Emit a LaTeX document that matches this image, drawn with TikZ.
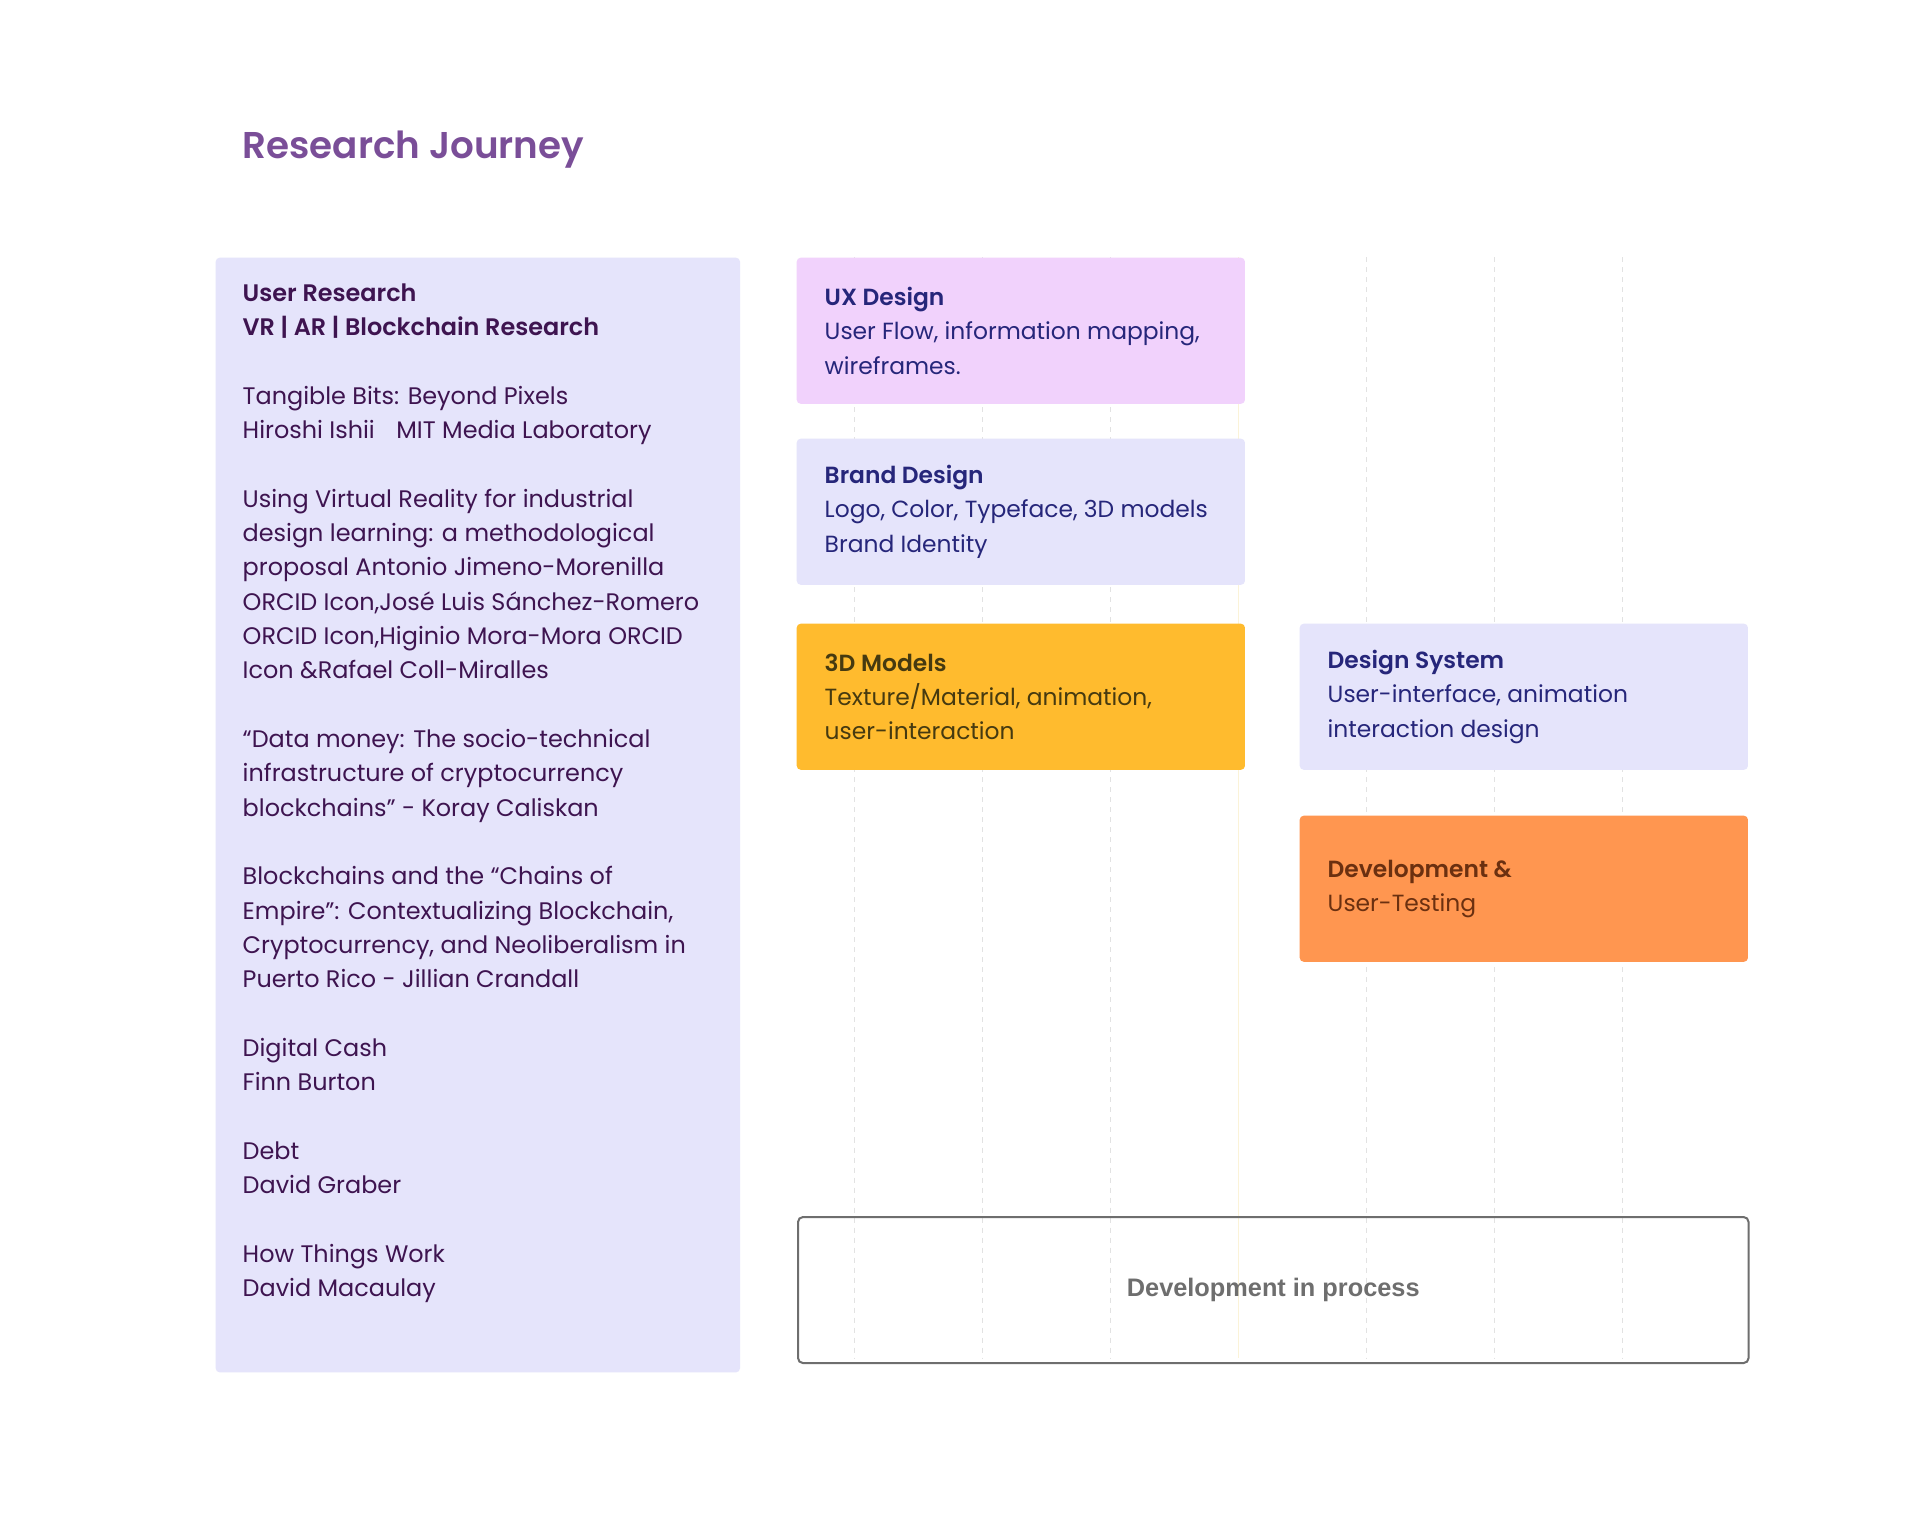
\documentclass[tikz,border=0pt]{standalone}
\usepackage{fontspec}
\setmainfont{Poppins}[BoldFont={Poppins SemiBold}]
\setsansfont{Liberation Sans}
\usetikzlibrary{positioning}

\definecolor{titlepurple}{HTML}{7A4E98}
\definecolor{panelblue}{HTML}{E5E4FB}
\definecolor{panelink}{HTML}{3E1450}
\definecolor{uxpink}{HTML}{F1D2FC}
\definecolor{navyink}{HTML}{26267A}
\definecolor{modelgold}{HTML}{FFBB2E}
\definecolor{goldink}{HTML}{463A10}
\definecolor{devorange}{HTML}{FF9650}
\definecolor{orangeink}{HTML}{6B3010}
\definecolor{gridgray}{HTML}{E2E2E2}
\definecolor{gridyellow}{HTML}{FBF3D8}
\definecolor{procgray}{HTML}{6E6E6E}

\newcommand{\rjbody}{\fontsize{6.8}{9.76}\selectfont}
\newcommand{\rjbox}{\fontsize{6.65}{9.76}\selectfont}

\tikzset{
  stagebox/.style={rounded corners=0.4mm, inner sep=0pt, minimum width=4.48cm,
    minimum height=1.46cm, anchor=north west},
  stagetext/.style={align=left, inner sep=0pt, anchor=west, font=\rjbox},
  gridline/.style={gridgray, line width=0.1mm, dash pattern=on 0.5mm off 0.5mm},
}

\begin{document}
\begin{tikzpicture}[x=0.01cm, y=-0.01cm]
  \useasboundingbox[fill=white] (0,0) rectangle (1920,1524);

  % Header
  \node[anchor=west, inner sep=0pt, text=titlepurple,
    font=\fontsize{10.6}{12}\selectfont\bfseries] (title) at (242,150) {Research Journey};

  % Reading list
  \node[fill=panelblue, rounded corners=0.4mm, minimum width=5.24cm,
    minimum height=11.14cm, anchor=north west, inner sep=0pt] (panel) at (215,257) {};
  \node[anchor=north west, align=left, text=panelink, font=\rjbody, inner sep=0pt]
    (refs) at (242,283) {%
    \textbf{User Research}\\
    \textbf{VR | AR | Blockchain Research}\\[9.76pt]
    Tangible Bits: Beyond Pixels\\
    Hiroshi Ishii\hspace{0.9em}MIT Media Laboratory\\[9.76pt]
    Using Virtual Reality for industrial\\
    design learning: a methodological\\
    proposal Antonio Jimeno-Morenilla\\
    ORCID Icon,José Luis Sánchez-Romero\\
    ORCID Icon,Higinio Mora-Mora ORCID\\
    Icon \&Rafael Coll-Miralles\\[9.76pt]
    “Data money: The socio-technical\\
    infrastructure of cryptocurrency\\
    blockchains” - Koray Caliskan\\[9.76pt]
    Blockchains and the “Chains of\\
    Empire”: Contextualizing Blockchain,\\
    Cryptocurrency, and Neoliberalism in\\
    Puerto Rico - Jillian Crandall\\[9.76pt]
    Digital Cash\\
    Finn Burton\\[9.76pt]
    Debt\\
    David Graber\\[9.76pt]
    How Things Work\\
    David Macaulay};

  % Grid
  \foreach \gx in {854,982,1110,1366,1494,1622}
    \draw[gridline] (\gx,257) -- (\gx,1358);
  \draw[gridyellow, line width=0.1mm] (1238,257) -- (1238,1358);

  % Boxes
  \node[stagebox, fill=uxpink] (ux) at (796,257) {};
  \node[stagebox, fill=panelblue] (brand) at (796,438) {};
  \node[stagebox, fill=modelgold] (models) at (796,623) {};
  \node[stagebox, fill=panelblue] (system) at (1299,623) {};
  \node[stagebox, fill=devorange] (devtest) at (1299,815) {};

  \node[stagetext, text=navyink, right=0.28cm of ux.west] (uxtext)
    {\textbf{UX Design}\\User Flow, information mapping,\\wireframes.};
  \node[stagetext, text=navyink, right=0.28cm of brand.west] (brandtext)
    {\textbf{Brand Design}\\Logo, Color, Typeface, 3D models\\Brand Identity};
  \node[stagetext, text=goldink, right=0.28cm of models.west] (modelstext)
    {\textbf{3D Models}\\Texture/Material, animation,\\user-interaction};
  \node[stagetext, text=navyink, right=0.28cm of system.west] (systemtext)
    {\textbf{Design System}\\User-interface, animation\\interaction design};
  \node[stagetext, text=orangeink, right=0.28cm of devtest.west] (devtesttext)
    {\textbf{Development \&}\\User-Testing};

  \node[draw=procgray, line width=0.2mm, rounded corners=0.5mm, minimum width=9.5cm,
    minimum height=1.46cm, anchor=north west, text=procgray,
    font=\sffamily\bfseries\fontsize{7.2}{8}\selectfont] (process) at (797,1216)
    {Development in process};
\end{tikzpicture}
\end{document}
